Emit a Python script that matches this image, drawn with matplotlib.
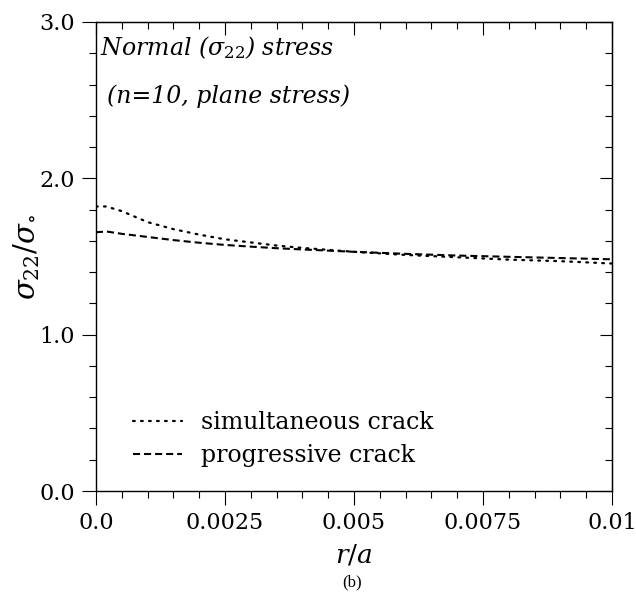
import matplotlib
matplotlib.use("Agg")
import matplotlib.pyplot as plt
from matplotlib.ticker import MultipleLocator, FixedFormatter, FixedLocator

plt.rcParams['font.family'] = 'DejaVu Serif'
plt.rcParams['mathtext.fontset'] = 'dejavuserif'

# r/a positions and sigma22/sigma0 values
r_over_a = [0.0, 0.0002, 0.0005, 0.001, 0.0015, 0.002, 0.0025, 0.003, 0.0035,
            0.004, 0.005, 0.006, 0.007, 0.008, 0.009, 0.01]
simultaneous = [1.82, 1.82, 1.79, 1.72, 1.675, 1.64, 1.61, 1.59, 1.57,
                1.555, 1.53, 1.51, 1.495, 1.48, 1.47, 1.455]
progressive = [1.655, 1.66, 1.645, 1.625, 1.605, 1.588, 1.574, 1.563, 1.553,
               1.545, 1.53, 1.517, 1.506, 1.498, 1.49, 1.482]

x_ticks = [0.0, 0.0025, 0.005, 0.0075, 0.01]
x_ticklabels = ["0.0", "0.0025", "0.005", "0.0075", "0.01"]
y_ticks = [0.0, 1.0, 2.0, 3.0]
y_ticklabels = ["0.0", "1.0", "2.0", "3.0"]

fig = plt.figure(figsize=(6.36, 5.99), dpi=100)
ax = fig.add_axes([0.1509, 0.1803, 0.8113, 0.7830])

ax.plot(r_over_a, simultaneous, color='black', lw=1.6, linestyle=(0, (0.8, 2.8)),
        dash_capstyle='round', label='simultaneous crack')
ax.plot(r_over_a, progressive, color='black', lw=1.5, linestyle=(0, (3.4, 1.9)),
        label='progressive crack')

ax.set_xlim(0, 0.01)
ax.set_ylim(0, 3.0)

ax.xaxis.set_major_locator(FixedLocator(x_ticks))
ax.xaxis.set_major_formatter(FixedFormatter(x_ticklabels))
ax.xaxis.set_minor_locator(MultipleLocator(0.0005))
ax.yaxis.set_major_locator(FixedLocator(y_ticks))
ax.yaxis.set_major_formatter(FixedFormatter(y_ticklabels))
ax.yaxis.set_minor_locator(MultipleLocator(0.2))

ax.tick_params(which='major', direction='out', length=10, width=0.8, labelsize=16, pad=5)
ax.tick_params(which='minor', direction='out', length=5, width=0.8)
for s in ax.spines.values():
    s.set_linewidth(1.0)

# inward ticks on top and right
top = ax.secondary_xaxis('top')
top.xaxis.set_major_locator(FixedLocator(x_ticks))
top.xaxis.set_minor_locator(MultipleLocator(0.0005))
top.tick_params(which='major', direction='in', length=9, width=0.8, labeltop=False)
top.tick_params(which='minor', direction='in', length=5, width=0.8)
right = ax.secondary_yaxis('right')
right.yaxis.set_major_locator(FixedLocator(y_ticks))
right.yaxis.set_minor_locator(MultipleLocator(0.2))
right.tick_params(which='major', direction='in', length=9, width=0.8, labelright=False)
right.tick_params(which='minor', direction='in', length=5, width=0.8)

ax.set_xlabel(r'$r/a$', fontsize=19, labelpad=6)
ax.set_ylabel(r'$\sigma_{22}/\sigma_{\circ}$', fontsize=21)
ax.yaxis.set_label_coords(-0.105, 0.5)

ax.text(0.008, 0.945, r'Normal ($\sigma_{22}$) stress', transform=ax.transAxes,
        fontsize=17, style='italic', va='center', ha='left')
ax.text(0.022, 0.842, '(n=10, plane stress)', transform=ax.transAxes,
        fontsize=17, style='italic', va='center', ha='left')

leg = ax.legend(loc='lower left', bbox_to_anchor=(0.03, 0.005), frameon=False,
                fontsize=17, handlelength=2.1, handletextpad=0.8, labelspacing=0.45)

fig.text(0.5535, 0.028, '(b)', fontsize=12, family='Liberation Serif', ha='center', va='center')

fig.savefig('out.png', dpi=100)
